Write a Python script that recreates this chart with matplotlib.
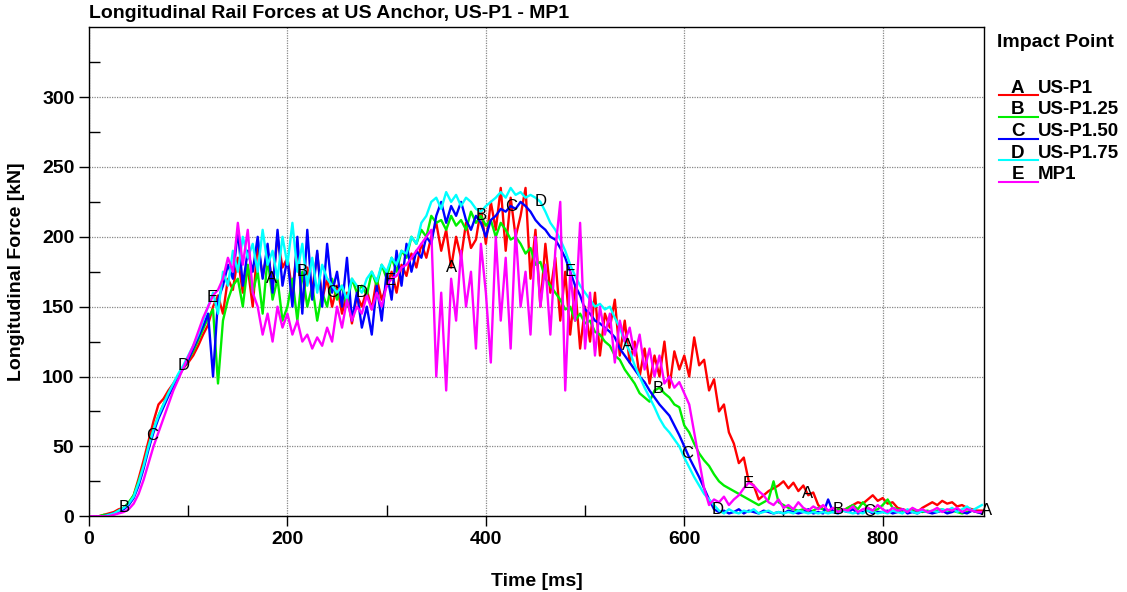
import numpy as np
import matplotlib.pyplot as plt
from matplotlib.lines import Line2D

plt.rcParams['font.family'] = ['Liberation Sans', 'DejaVu Sans']

# время, шаг 5 мс
time = np.arange(0, 905, 5)

# A  US-P1
force_a = [
    0, 0, 0, 1, 2, 3, 5, 6, 9, 15,
    27, 40, 54, 68, 80, 84, 90, 95, 101, 106,
    110, 115, 122, 130, 137, 150, 158, 145, 170, 162,
    185, 160, 178, 150, 195, 172, 190, 165, 200, 178,
    185, 160, 195, 150, 178, 162, 188, 155, 170, 150,
    165, 145, 160, 138, 158, 150, 162, 148, 170, 155,
    165, 175, 160, 180, 172, 188, 178, 195, 185, 200,
    210, 190, 205, 178, 200, 185, 210, 192, 198, 220,
    195, 225, 205, 235, 190, 228, 200, 215, 235, 170,
    205, 150, 195, 160, 185, 140, 175, 130, 165, 120,
    150, 125, 160, 115, 145, 135, 155, 115, 140, 110,
    125, 100, 120, 95, 115, 100, 125, 92, 118, 105,
    115, 100, 128, 108, 112, 90, 98, 75, 80, 60,
    52, 38, 42, 25, 22, 12, 15, 18, 20, 22,
    25, 20, 24, 18, 22, 15, 17, 8, 5, 4,
    3, 5, 4, 6, 8, 10, 9, 12, 15, 11,
    13, 9, 10, 6, 5, 4, 5, 3, 6, 8,
    10, 8, 11, 9, 10, 7, 8, 6, 5, 4,
    4]

# B  US-P1.25
force_b = [
    0, 0, 0, 1, 1, 2, 4, 6, 10, 15,
    25, 36, 50, 62, 72, 80, 88, 94, 100, 106,
    112, 118, 126, 134, 142, 148, 95, 140, 155, 165,
    170, 150, 180, 160, 175, 145, 185, 155, 170, 140,
    150, 170, 140, 175, 150, 165, 140, 160, 150, 170,
    155, 165, 150, 170, 160, 165, 158, 175, 165, 180,
    170, 185, 175, 190, 185, 200, 195, 205, 200, 215,
    210, 212, 205, 215, 208, 212, 205, 218, 210, 215,
    208, 212, 200, 210, 205, 198, 200, 195, 188, 192,
    180, 182, 170, 165, 160, 155, 148, 150, 140, 145,
    138, 140, 132, 130, 125, 122, 115, 112, 105, 100,
    95, 88, 85, 82, 90, 92, 88, 85, 80, 78,
    65, 60, 52, 45, 40, 36, 30, 25, 22, 20,
    18, 16, 14, 12, 10, 8, 10, 12, 25, 10,
    8, 6, 5, 4, 5, 3, 4, 6, 5, 4,
    3, 5, 4, 6, 8, 5, 10, 6, 4, 5,
    8, 12, 6, 5, 4, 3, 5, 4, 3, 4,
    3, 4, 5, 3, 4, 3, 2, 3, 4, 3,
    2]

# C  US-P1.50
force_c = [
    0, 0, 0, 0, 1, 2, 3, 5, 8, 13,
    22, 34, 48, 60, 70, 78, 86, 93, 100, 106,
    112, 120, 128, 136, 145, 100, 155, 165, 180, 170,
    205, 165, 190, 175, 200, 170, 195, 160, 205, 165,
    185, 150, 200, 145, 205, 155, 190, 150, 195, 160,
    175, 150, 185, 140, 160, 135, 150, 130, 165, 140,
    175, 155, 190, 165, 195, 175, 190, 185, 200, 195,
    215, 225, 210, 222, 215, 225, 212, 205, 215, 210,
    200, 212, 215, 220, 218, 222, 220, 225, 222, 218,
    212, 208, 205, 200, 198, 192, 185, 175, 165, 158,
    148, 145, 140, 138, 135, 132, 128, 120, 115, 110,
    105, 100, 96, 90, 85, 80, 76, 72, 65, 58,
    50, 42, 35, 28, 20, 12, 5, 3, 4, 2,
    3, 5, 2, 4, 3, 2, 4, 3, 2, 3,
    2, 4, 3, 2, 3, 5, 2, 3, 2, 12,
    3, 2, 4, 3, 5, 2, 3, 4, 2, 3,
    3, 4, 2, 3, 5, 2, 3, 2, 4, 3,
    2, 3, 4, 2, 3, 5, 3, 2, 4, 3,
    2]

# D  US-P1.75
force_d = [
    0, 0, 0, 0, 1, 2, 4, 6, 9, 14,
    24, 36, 50, 62, 72, 80, 88, 95, 102, 108,
    115, 122, 130, 140, 150, 160, 145, 175, 165, 190,
    175, 200, 185, 195, 175, 205, 180, 190, 170, 200,
    180, 210, 175, 195, 165, 185, 160, 180, 170, 165,
    160, 165, 155, 170, 165, 160, 170, 175, 168, 180,
    175, 185, 180, 190, 188, 200, 195, 210, 215, 225,
    228, 220, 232, 225, 230, 222, 228, 225, 220, 218,
    222, 225, 228, 232, 228, 235, 230, 232, 228, 230,
    228, 225, 218, 210, 205, 198, 190, 180, 172, 165,
    160, 155, 150, 152, 148, 150, 142, 135, 125, 118,
    108, 100, 92, 85, 78, 70, 64, 60, 55, 50,
    42, 35, 28, 22, 16, 12, 8, 4, 2, 5,
    3, 2, 4, 3, 5, 2, 3, 4, 2, 3,
    2, 3, 2, 4, 3, 2, 3, 2, 3, 2,
    3, 2, 4, 3, 2, 3, 2, 4, 3, 2,
    3, 2, 4, 3, 2, 5, 3, 2, 4, 3,
    4, 3, 5, 4, 6, 3, 5, 7, 4, 6,
    8]

# E  MP1
force_e = [
    0, 0, 0, 0, 0, 1, 2, 3, 5, 9,
    16, 26, 38, 50, 60, 70, 80, 90, 98, 106,
    114, 122, 132, 142, 150, 158, 162, 170, 185, 175,
    210, 180, 205, 160, 150, 130, 145, 125, 150, 135,
    145, 130, 140, 125, 130, 120, 128, 122, 135, 125,
    150, 135, 155, 140, 150, 145, 158, 148, 160, 150,
    165, 170, 172, 178, 180, 185, 190, 195, 200, 205,
    100, 160, 90, 170, 140, 190, 150, 175, 120, 195,
    160, 110, 200, 140, 185, 120, 205, 150, 175, 130,
    200, 150, 180, 130, 190, 225, 90, 175, 140, 210,
    120, 160, 115, 150, 130, 145, 110, 140, 125, 135,
    115, 130, 105, 120, 100, 115, 95, 100, 92, 96,
    88, 80, 60, 40, 20, 8, 12, 10, 14, 8,
    12, 15, 20, 24, 22, 18, 15, 10, 8, 12,
    6, 8, 5, 10, 6, 4, 7, 5, 8, 4,
    6, 3, 5, 4, 7, 3, 5, 6, 4, 8,
    5, 3, 6, 4, 5, 3, 6, 4, 5, 3,
    4, 6, 3, 5, 4, 6, 3, 5, 4, 3,
    3]

letters = ['A', 'B', 'C', 'D', 'E']
names = ['US-P1', 'US-P1.25', 'US-P1.50', 'US-P1.75', 'MP1']
colors = ['#ff0000', '#00ee00', '#0000ff', '#00ffff', '#ff00ff']
series = [force_a, force_b, force_c, force_d, force_e]
# где стоят буквы на кривых, мс
mark_times = [
    [184, 365, 543, 724, 905],
    [35, 215, 395, 574, 755],
    [64, 245, 425, 603, 786],
    [95, 275, 455, 634],
    [124, 304, 485, 664],
]

fig = plt.figure(figsize=(11.27, 5.92), dpi=100)
ax = fig.add_axes([0.079, 0.128, 0.794, 0.826])

for y, c in zip(series, colors):
    ax.plot(time, y, color=c, lw=1.7)

for let, y, ts in zip(letters, series, mark_times):
    for t in ts:
        ax.text(t, np.interp(t, time, y), let, ha='center', va='center',
                fontsize=12, color='black', clip_on=False, zorder=5)

ax.set_xlim(0, 902)
ax.set_ylim(0, 350)
ax.set_xticks([0, 200, 400, 600, 800])
ax.set_xticks([100, 300, 500, 700], minor=True)
ax.set_yticks([0, 50, 100, 150, 200, 250, 300])
ax.set_yticks([25, 75, 125, 175, 225, 275, 325], minor=True)
ax.tick_params(which='major', direction='out', length=7, labelsize=14, width=1)
ax.tick_params(which='minor', direction='in', length=8, width=1)
for lab in ax.get_xticklabels() + ax.get_yticklabels():
    lab.set_fontweight('bold')
ax.grid(True, which='major', color='#888888', lw=0.9, ls=(0, (1, 1)))
for s in ax.spines.values():
    s.set_linewidth(1)

ax.set_xlabel('Time [ms]', fontsize=14, fontweight='bold', labelpad=18)
ax.set_ylabel('Longitudinal Force [kN]', fontsize=14, fontweight='bold', labelpad=12)
fig.text(0.079, 0.978, 'Longitudinal Rail Forces at US Anchor, US-P1 - MP1',
         fontsize=14, fontweight='bold', va='center', ha='left')

# легенда справа
fig.text(0.885, 0.929, 'Impact Point', fontsize=14, fontweight='bold', va='center')
for i, (let, name, c) in enumerate(zip(letters, names, colors)):
    yy = 0.851 - i * 0.0365
    fig.add_artist(Line2D([0.886, 0.921], [yy - 0.012, yy - 0.012], color=c, lw=1.5))
    fig.text(0.903, yy, let, fontsize=13.5, fontweight='bold', ha='center', va='center')
    fig.text(0.921, yy, name, fontsize=13.5, fontweight='bold', ha='left', va='center')

plt.savefig('out.png')
